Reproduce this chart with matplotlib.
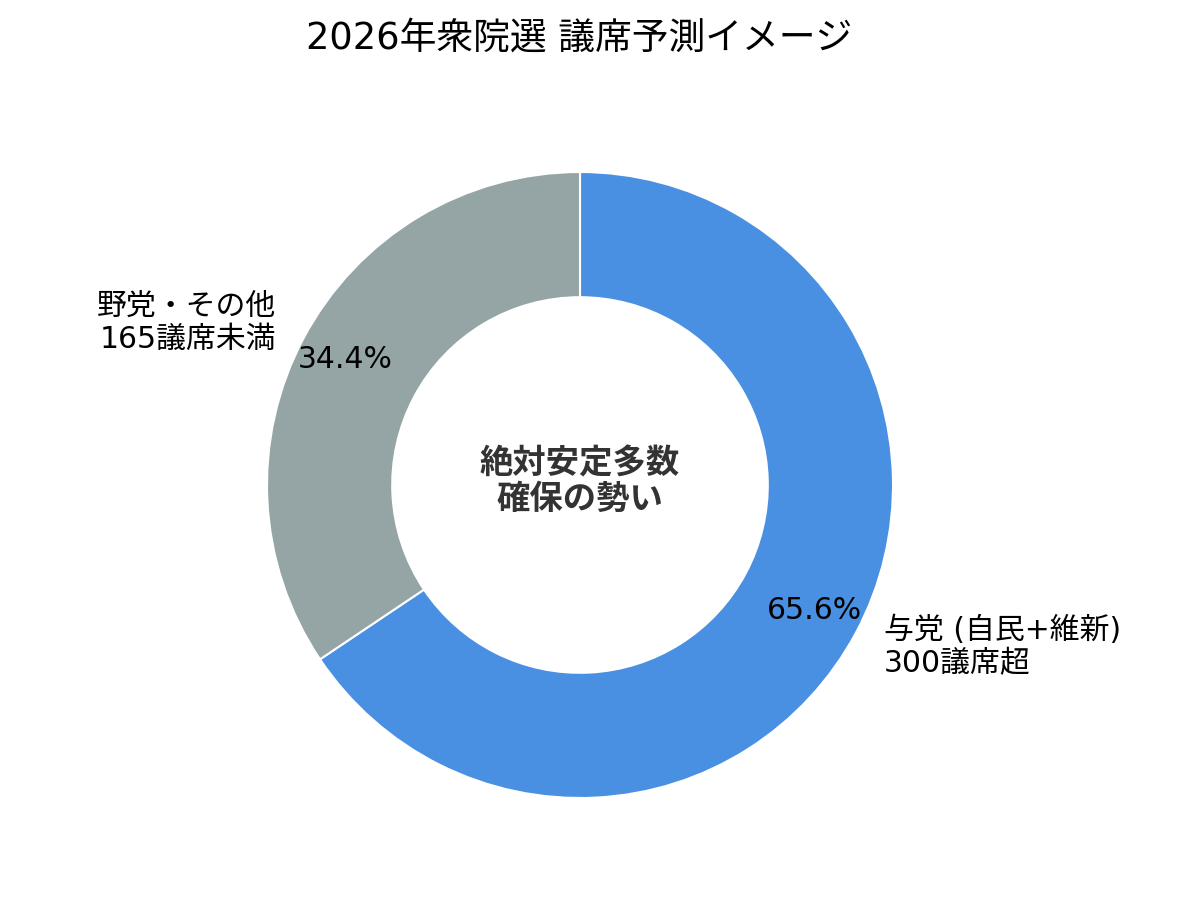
import matplotlib
matplotlib.use("Agg")
import matplotlib.pyplot as plt

plt.rcParams['font.family'] = ['DejaVu Sans', 'Noto Sans CJK JP']

title = "2026年衆院選 議席予測イメージ"
categories = ["与党 (自民+維新)\n300議席超", "野党・その他\n165議席未満"]
shares = [65.6, 34.4]
colors = ["#4A90E2", "#95A5A6"]
center_text = "絶対安定多数\n確保の勢い"

fig = plt.figure(figsize=(12, 9), dpi=100)
ax = fig.add_axes([0, 0, 1, 1])
px = 313.0

wedges, texts, autotexts = ax.pie(
    shares, labels=categories, colors=colors, startangle=90, counterclock=False,
    autopct='%1.1f%%', pctdistance=0.85, labeldistance=1.1,
    wedgeprops=dict(width=0.4, edgecolor='white', linewidth=1.5),
    textprops=dict(fontsize=21.5, color='black'))
ax.axis('off')
ax.set_aspect('auto')
ax.set_xlim(-580 / px, 620 / px)
ax.set_ylim(-415 / px, 485 / px)

ax.text(0, 0.01, center_text, ha='center', va='center', fontsize=24,
        fontweight='bold', color='#333333', linespacing=1.1)

fig.text(0.483, 1 - 38 / 900, title, ha='center', va='center', fontsize=26.5, color='black')

fig.savefig("out.png", dpi=100)
